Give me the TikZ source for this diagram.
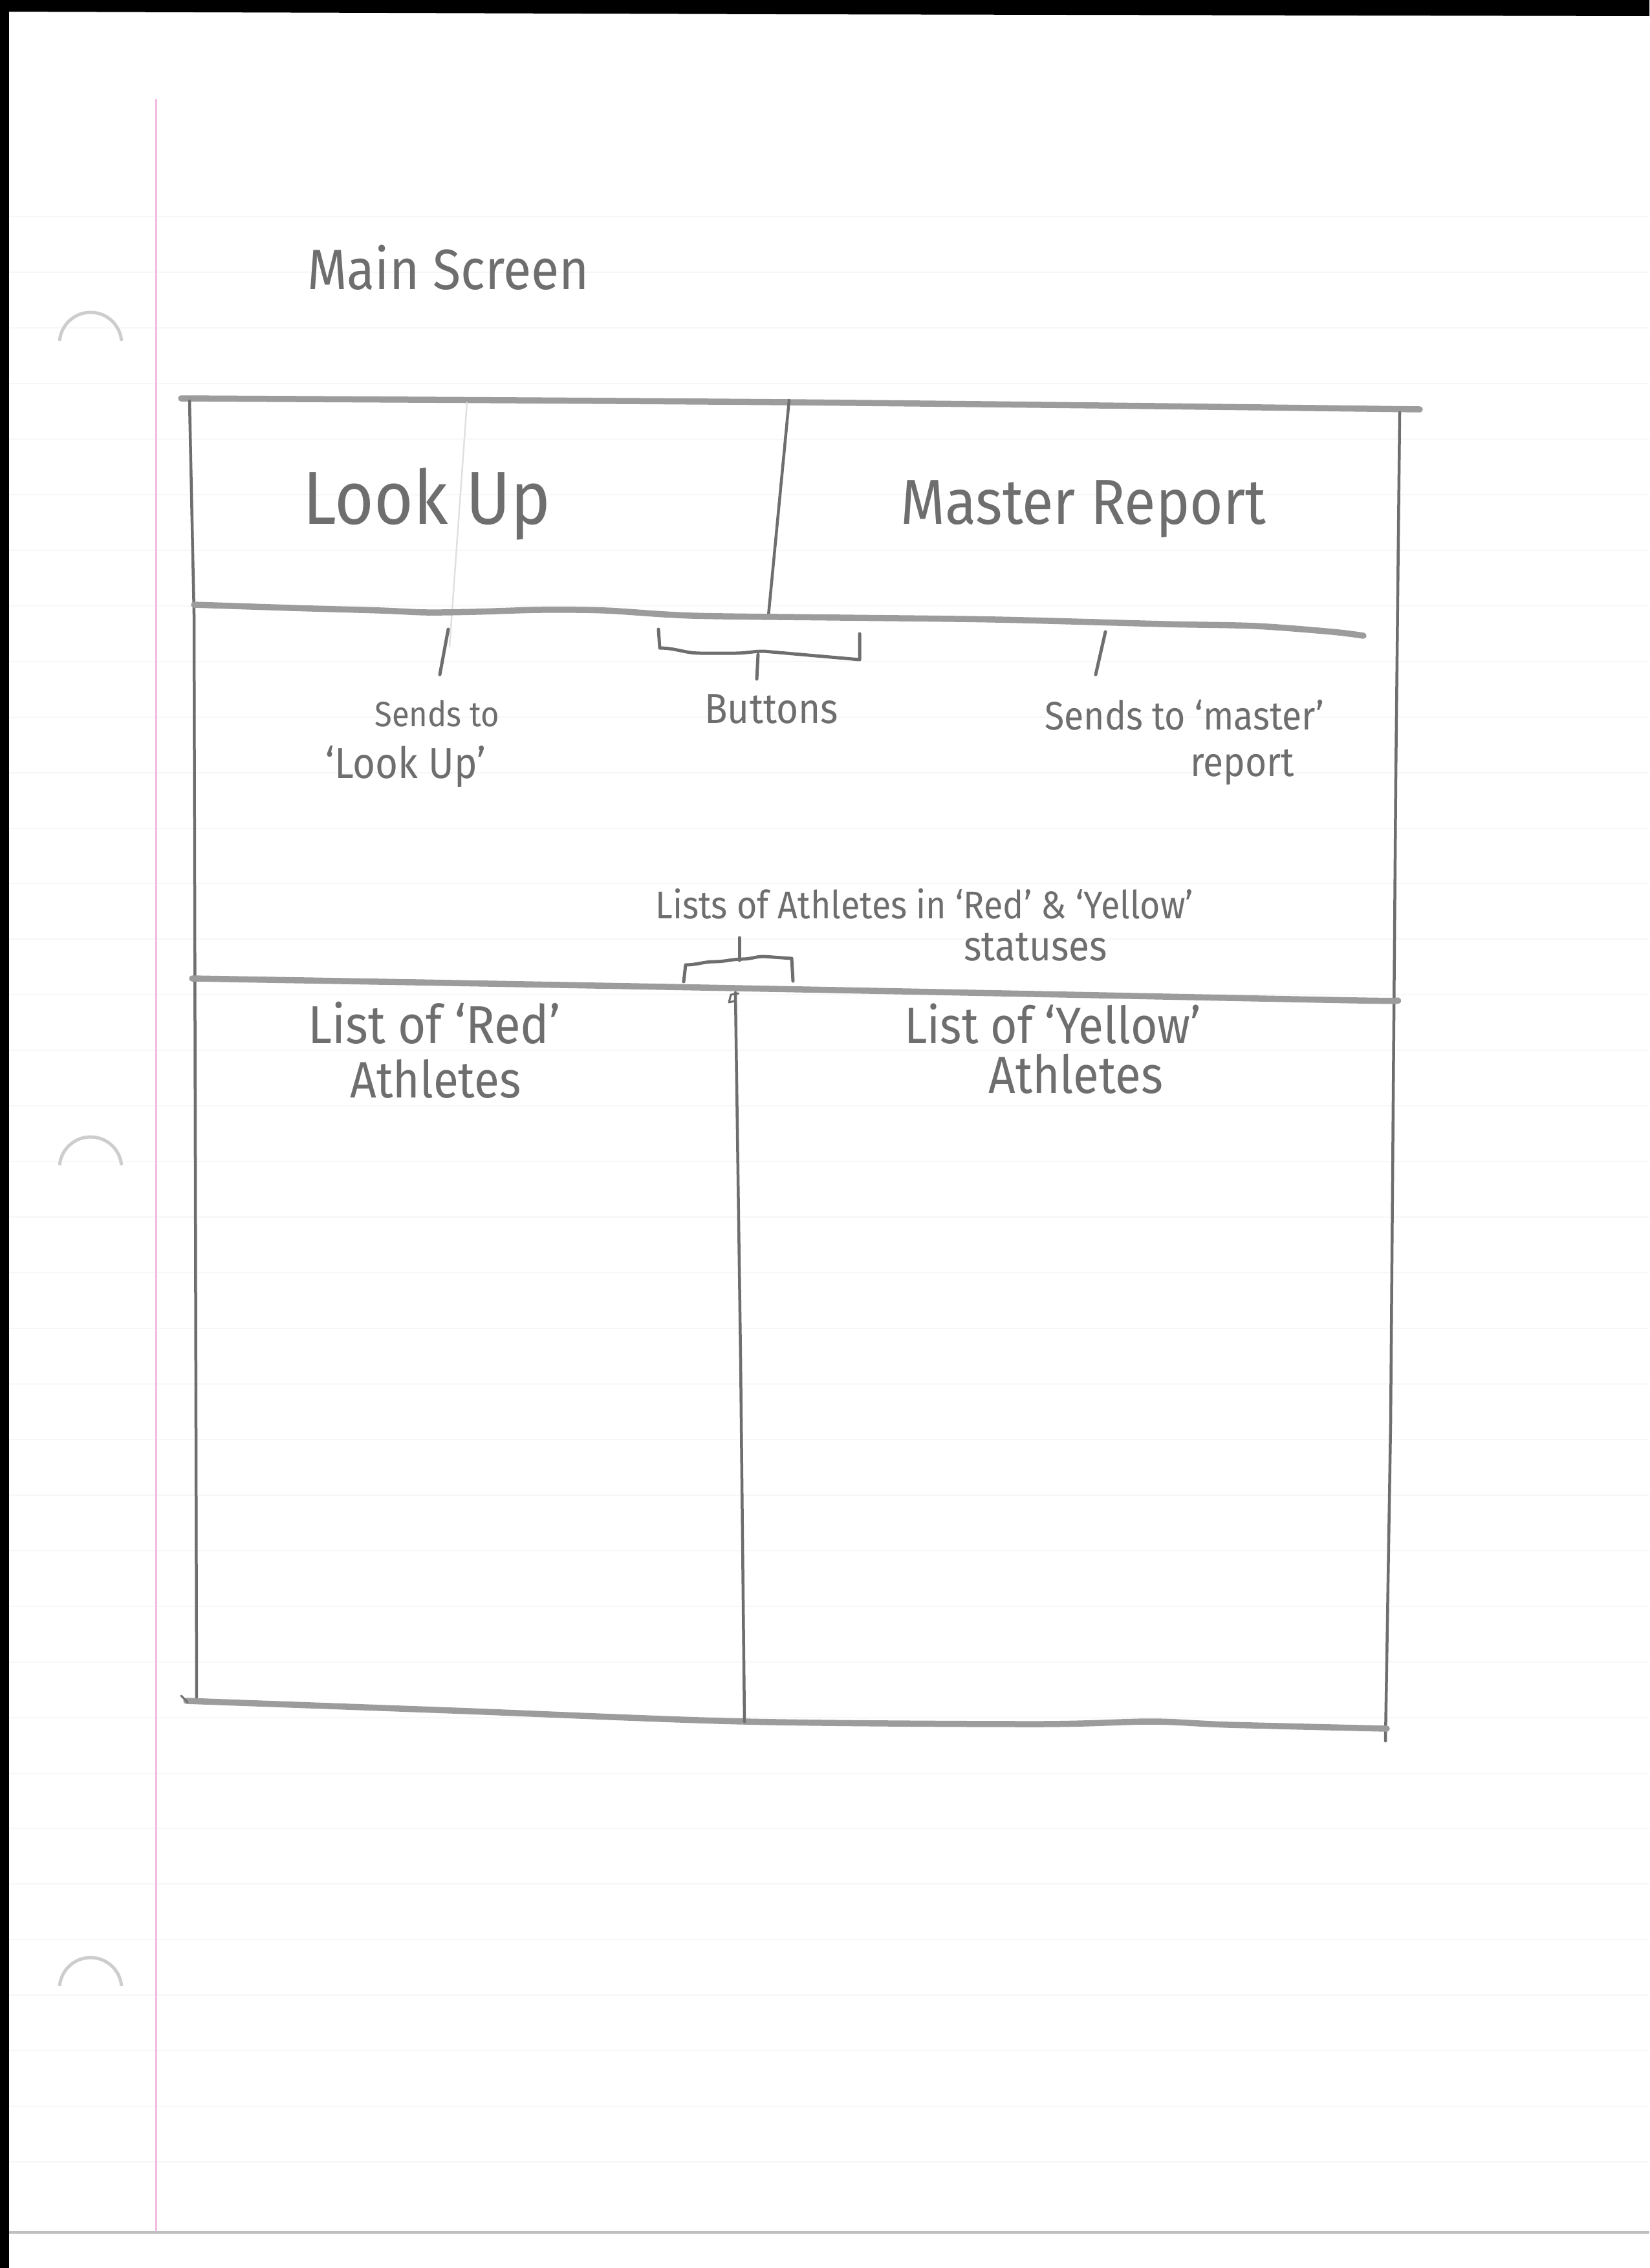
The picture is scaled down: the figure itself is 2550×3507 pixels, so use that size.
\documentclass[tikz,border=0pt]{standalone}
\usepackage{fontspec}
\newfontfamily\handfont[FakeStretch=0.9]{Fira Sans}
\newcommand\handsz[1]{\handfont\fontsize{#1}{#1}\selectfont}
\definecolor{pencil}{HTML}{6E6E6E}
\definecolor{pencillight}{HTML}{9C9C9C}
\definecolor{marginpink}{HTML}{F2B8E2}
\definecolor{ruleline}{HTML}{F7F7F7}
\definecolor{holeedge}{HTML}{CDCDCD}
\begin{document}
\begin{tikzpicture}[x=0.2mm,y=-0.2mm,
  hline/.style={draw=pencillight, line width=1.9mm, line cap=round, line join=round},
  vline/.style={draw=pencil, line width=0.9mm, line cap=round, line join=round},
  tickline/.style={draw=pencil, line width=1.0mm, line cap=round, line join=round},
  lbl/.style={text=pencil, inner sep=0pt, anchor=base west},
]
% sheet
\useasboundingbox (0,0) rectangle (2550,3507);
\fill[white] (0,0) rectangle (2550,3507);

% faint ruling of the notebook paper
\foreach \k in {-3,...,32}
  \draw[ruleline, line width=0.4mm] (14,{593+85.94*\k}) -- (2550,{593+85.94*\k});

% red margin line
\draw[marginpink, line width=0.6mm] (241,153) -- (241,3452);

% scanner edges
\fill[black] (0,0) -- (2550,0) -- (2550,25) -- (1200,22) -- (0,18) -- cycle;
\fill[black] (0,0) rectangle (14,3507);
\draw[black!25, line width=0.8mm] (14,3452) -- (2550,3452);

% punched-hole shadows
\foreach \cy in {531,1806,3075}
  \draw[holeedge, line width=1mm] (140,\cy) ++(185:48) arc[start angle=185, end angle=355, radius=48];

% title
\node[lbl, font=\handsz{50pt}] (title) at (475,447) {Main Screen};

% outer frame
\draw[hline] plot[smooth] coordinates {(280,616) (800,619) (1220,622) (1700,627) (2195,633)};
\draw[vline] (293,620) -- (300,950) -- (304,2630);
\draw[vline] (2164,638) -- (2158,1200) -- (2150,2200) -- (2142,2692);
\draw[hline] plot[smooth] coordinates {(288,2630) (700,2645) (1151,2662) (1600,2666) (1780,2662) (1900,2667) (2144,2673)};
\draw[vline, line width=0.6mm] (280,2622) -- (290,2632);

% button row
\draw[black!12, line width=0.5mm] (722,622) -- (695,1000);
\draw[vline] (1220,619) -- (1188,952);
\draw[hline] plot[smooth] coordinates {(300,935) (450,940) (588,944) (660,947) (735,946) (836,943) (936,944) (1070,952) (1300,955) (1539,958) (1800,965) (1941,968) (2060,977) (2108,983)};
\node[lbl, font=\handsz{66pt}] (lookup) at (468,810) {Look Up};
\node[lbl, font=\handsz{56pt}] (master) at (1392,810) {Master Report};

% annotations of the buttons
\draw[tickline] (693,973) -- (680,1043);
\draw[tickline] (1018,973) -- (1020,1002) to[out=0,in=180] (1083,1010) -- (1137,1010)
  to[out=0,in=180] (1181,1007) -- (1329,1020) -- (1329,980);
\draw[tickline] (1172,1012) -- (1170,1050);
\draw[tickline] (1709,977) -- (1694,1043);
\node[lbl, font=\handsz{31pt}] (sendsA) at (579,1123) {Sends to};
\node[lbl, font=\handsz{38pt}] (sendsB) at (503,1203) {‘Look Up’};
\node[lbl, font=\handsz{37pt}] (buttons) at (1089,1118) {Buttons};
\node[lbl, font=\handsz{35pt}] (sendsC) at (1615,1128) {Sends to ‘master’};
\node[lbl, font=\handsz{36pt}] (sendsD) at (1840,1200) {report};

% lists section
\node[lbl, font=\handsz{34pt}] (lists) at (1013,1420) {Lists of Athletes in ‘Red’ \& ‘Yellow’};
\node[lbl, font=\handsz{37pt}] (statuses) at (1490,1485) {statuses};
\draw[tickline] (1057,1518) -- (1060,1492) to[out=0,in=180] (1105,1487)
  to[out=0,in=180] (1148,1483) to[out=0,in=180] (1181,1479) -- (1224,1482) -- (1226,1517);
\draw[tickline] (1143,1485) -- (1143,1450);
\draw[hline] plot[smooth] coordinates {(297,1513) (700,1520) (1137,1528) (1600,1537) (2100,1547) (2160,1547)};
\draw[vline] (1137,1535) -- (1145,2100) -- (1151,2662);
\draw[tickline, line width=0.6mm] (1142,1536) -- (1130,1538) -- (1127,1550) -- (1135,1548);

\node[lbl, font=\handsz{47pt}] (redA) at (476,1613) {List of ‘Red’};
\node[lbl, font=\handsz{45pt}] (redB) at (541,1697) {Athletes};
\node[lbl, font=\handsz{45pt}] (yelA) at (1398,1613) {List of ‘Yellow’};
\node[lbl, font=\handsz{46pt}] (yelB) at (1528,1690) {Athletes};
\end{tikzpicture}
\end{document}
